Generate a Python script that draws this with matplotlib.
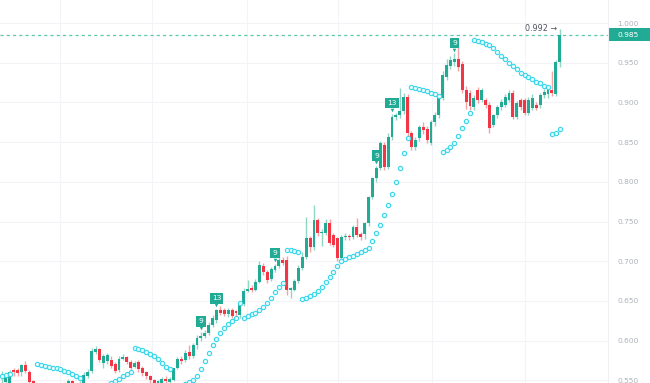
import matplotlib
matplotlib.use('Agg')
import matplotlib.pyplot as plt
import matplotlib.transforms as mtransforms
from matplotlib.patches import Rectangle
import numpy as np

# ---- data (one candle per entry) ----
opens = [0.552, 0.548, 0.545, 0.563, 0.563, 0.560, 0.569, 0.561, 0.549, 0.541,
         0.536, 0.532, 0.530, 0.534, 0.531, 0.535, 0.538, 0.541, 0.549, 0.543,
         0.540, 0.545, 0.556, 0.562, 0.586, 0.589, 0.572, 0.574, 0.576, 0.570,
         0.563, 0.577, 0.579, 0.573, 0.567, 0.573, 0.566, 0.560, 0.555, 0.550,
         0.543, 0.546, 0.552, 0.548, 0.551, 0.566, 0.577, 0.575, 0.586, 0.580,
         0.594, 0.603, 0.606, 0.610, 0.620, 0.626, 0.639, 0.638, 0.633, 0.639,
         0.637, 0.632, 0.646, 0.663, 0.666, 0.664, 0.674, 0.694, 0.687, 0.678,
         0.689, 0.694, 0.702, 0.702, 0.664, 0.664, 0.675, 0.691, 0.705, 0.729,
         0.718, 0.752, 0.735, 0.736, 0.748, 0.733, 0.729, 0.704, 0.730, 0.732,
         0.731, 0.743, 0.734, 0.734, 0.748, 0.781, 0.805, 0.817, 0.846, 0.819,
         0.856, 0.882, 0.884, 0.889, 0.907, 0.861, 0.844, 0.855, 0.869, 0.866,
         0.849, 0.875, 0.884, 0.906, 0.932, 0.946, 0.951, 0.955, 0.948, 0.916,
         0.912, 0.894, 0.915, 0.903, 0.903, 0.897, 0.872, 0.884, 0.894, 0.897,
         0.903, 0.912, 0.882, 0.903, 0.903, 0.887, 0.893, 0.897, 0.897, 0.909,
         0.910, 0.916, 0.910, 0.951]
highs = [0.562, 0.557, 0.563, 0.566, 0.565, 0.571, 0.574, 0.563, 0.551, 0.546,
         0.540, 0.535, 0.537, 0.536, 0.538, 0.540, 0.545, 0.552, 0.551, 0.546,
         0.549, 0.560, 0.564, 0.591, 0.593, 0.591, 0.583, 0.584, 0.580, 0.573,
         0.580, 0.583, 0.581, 0.575, 0.574, 0.576, 0.568, 0.562, 0.557, 0.552,
         0.551, 0.554, 0.555, 0.554, 0.566, 0.579, 0.580, 0.588, 0.594, 0.597,
         0.607, 0.611, 0.613, 0.624, 0.632, 0.640, 0.644, 0.641, 0.641, 0.641,
         0.639, 0.649, 0.666, 0.676, 0.670, 0.678, 0.700, 0.698, 0.689, 0.693,
         0.697, 0.714, 0.705, 0.706, 0.668, 0.678, 0.695, 0.712, 0.756, 0.732,
         0.771, 0.755, 0.740, 0.753, 0.753, 0.736, 0.731, 0.733, 0.735, 0.734,
         0.746, 0.755, 0.737, 0.750, 0.782, 0.806, 0.820, 0.852, 0.850, 0.862,
         0.886, 0.887, 0.918, 0.912, 0.911, 0.864, 0.857, 0.872, 0.875, 0.870,
         0.878, 0.888, 0.909, 0.939, 0.955, 0.958, 0.962, 0.976, 0.952, 0.921,
         0.916, 0.909, 0.919, 0.918, 0.906, 0.900, 0.886, 0.897, 0.904, 0.910,
         0.916, 0.915, 0.902, 0.906, 0.906, 0.907, 0.910, 0.900, 0.912, 0.917,
         0.919, 0.940, 0.953, 0.992]
lows = [0.545, 0.544, 0.542, 0.556, 0.555, 0.556, 0.559, 0.543, 0.535, 0.530,
        0.528, 0.527, 0.528, 0.529, 0.529, 0.532, 0.535, 0.538, 0.540, 0.537,
        0.537, 0.542, 0.553, 0.559, 0.583, 0.573, 0.566, 0.571, 0.565, 0.559,
        0.561, 0.575, 0.570, 0.563, 0.565, 0.561, 0.556, 0.552, 0.547, 0.538,
        0.540, 0.542, 0.545, 0.544, 0.549, 0.564, 0.571, 0.573, 0.577, 0.578,
        0.590, 0.600, 0.603, 0.607, 0.617, 0.622, 0.632, 0.631, 0.630, 0.628,
        0.629, 0.629, 0.644, 0.661, 0.661, 0.662, 0.672, 0.683, 0.672, 0.675,
        0.687, 0.692, 0.695, 0.658, 0.654, 0.662, 0.673, 0.689, 0.703, 0.712,
        0.714, 0.732, 0.719, 0.733, 0.720, 0.718, 0.700, 0.701, 0.727, 0.727,
        0.728, 0.730, 0.727, 0.728, 0.744, 0.778, 0.800, 0.815, 0.815, 0.816,
        0.853, 0.878, 0.880, 0.886, 0.857, 0.840, 0.840, 0.851, 0.860, 0.849,
        0.846, 0.870, 0.880, 0.903, 0.928, 0.942, 0.946, 0.940, 0.912, 0.892,
        0.890, 0.890, 0.899, 0.900, 0.893, 0.861, 0.869, 0.880, 0.891, 0.894,
        0.900, 0.879, 0.879, 0.890, 0.884, 0.884, 0.890, 0.890, 0.893, 0.905,
        0.906, 0.908, 0.908, 0.945]
closes = [0.558, 0.555, 0.560, 0.561, 0.559, 0.569, 0.562, 0.548, 0.540, 0.536,
          0.532, 0.530, 0.534, 0.531, 0.535, 0.538, 0.541, 0.549, 0.543, 0.540,
          0.546, 0.557, 0.561, 0.587, 0.590, 0.576, 0.580, 0.582, 0.568, 0.562,
          0.577, 0.579, 0.573, 0.566, 0.572, 0.564, 0.559, 0.555, 0.550, 0.543,
          0.549, 0.552, 0.549, 0.552, 0.565, 0.577, 0.574, 0.585, 0.580, 0.594,
          0.603, 0.606, 0.610, 0.620, 0.628, 0.639, 0.635, 0.634, 0.639, 0.631,
          0.635, 0.646, 0.663, 0.665, 0.664, 0.674, 0.695, 0.686, 0.676, 0.690,
          0.694, 0.702, 0.698, 0.664, 0.666, 0.675, 0.691, 0.705, 0.729, 0.718,
          0.752, 0.736, 0.737, 0.748, 0.723, 0.720, 0.704, 0.730, 0.732, 0.730,
          0.743, 0.733, 0.731, 0.748, 0.781, 0.805, 0.817, 0.849, 0.819, 0.856,
          0.882, 0.884, 0.889, 0.907, 0.861, 0.844, 0.853, 0.869, 0.865, 0.853,
          0.875, 0.884, 0.906, 0.935, 0.947, 0.953, 0.955, 0.945, 0.916, 0.900,
          0.895, 0.906, 0.903, 0.915, 0.897, 0.868, 0.884, 0.894, 0.901, 0.907,
          0.912, 0.882, 0.899, 0.894, 0.887, 0.903, 0.906, 0.893, 0.909, 0.913,
          0.916, 0.912, 0.951, 0.985]

# parabolic SAR dots (nan = no dot drawn)
nan = np.nan
sar = [0.556, 0.557, 0.558, nan, nan, nan, nan, nan, nan,
       0.570, 0.569, 0.568, 0.567, 0.566, 0.565, 0.564, 0.562, 0.560, 0.558, 0.556, 0.553,
       0.527, 0.528, 0.530, 0.532, 0.535, 0.538, 0.542, 0.546, 0.549, 0.552, 0.555, 0.558, 0.561,
       0.591, 0.589, 0.588, 0.586, 0.583, 0.581, 0.577, 0.572, 0.567, 0.564,
       0.536, 0.537, 0.539, 0.545, 0.548, 0.551, 0.556, 0.564, 0.574, 0.584, 0.594,
       0.602, 0.610, 0.616, 0.621, 0.625, 0.628,
       0.647,
       0.629, 0.631, 0.633, 0.635, 0.638, 0.642, 0.647, 0.654, 0.661, 0.667, 0.673,
       0.714, 0.714, 0.713, 0.711,
       0.652, 0.654, 0.656, 0.659, 0.662, 0.668, 0.674, 0.680, 0.687, 0.694, 0.700,
       0.703, 0.705, 0.707, 0.709, 0.711, 0.714, 0.717, 0.725, 0.735, 0.746, 0.758,
       0.771, 0.785, 0.800, 0.817, 0.836, 0.855,
       0.919, 0.918, 0.917, 0.915, 0.914, 0.912, 0.910, 0.908,
       0.838, 0.840, 0.844, 0.849, 0.858, 0.868, 0.877, 0.887,
       0.979, 0.977, 0.976, 0.974, 0.972, 0.968, 0.964, 0.959, 0.955, 0.950,
       0.946, 0.942, 0.937, 0.934, 0.932, 0.929, 0.926, 0.924, 0.921, 0.919,
       0.860, 0.862, 0.866]

# TD sequential count labels
td_index = [51, 55, 70, 96, 100, 116]
td_text = ['9', '13', '9', '9', '13', '9']

price_ticks = [0.550, 0.600, 0.650, 0.700, 0.750, 0.800, 0.850, 0.900, 0.950, 1.000]
last_price = 0.985
session_high = 0.992

assert len(opens) == len(highs) == len(lows) == len(closes) == len(sar)

UP = '#22ab94'
DOWN = '#f23645'
UP_WICK = '#8fd6c4'
DOWN_WICK = '#f6a0a8'

fig = plt.figure(figsize=(6.5, 3.83), dpi=100)
ax = fig.add_axes([0, 0, 608 / 650, 1])

x = np.arange(len(closes))
o = np.array(opens)
c = np.array(closes)
up = c >= o

# wicks then bodies
ax.vlines(x, lows, highs, colors=[UP_WICK if u else DOWN_WICK for u in up],
          linewidth=1.0, zorder=2)
body_bottom = np.minimum(o, c)
body_height = np.maximum(np.abs(c - o), 0.0012)
ax.bar(x, body_height, bottom=body_bottom, width=0.74,
       color=[UP if u else DOWN for u in up], linewidth=0, zorder=3)

# parabolic SAR
ax.plot(x, sar, linestyle='none', marker='o', markersize=3.1,
        markerfacecolor='#e6fcff', markeredgecolor='#38d6eb', markeredgewidth=0.8,
        zorder=4)

# TD labels above the bars
for i, t in zip(td_index, td_text):
    ax.annotate(t, xy=(i, highs[i]), xytext=(0, 7.5), textcoords='offset points',
                ha='center', va='center', fontsize=5.4, color='white',
                bbox=dict(boxstyle='square,pad=0.3', fc=UP, ec='none'), zorder=6)
    tr = mtransforms.offset_copy(ax.transData, fig=fig, x=0, y=2.6, units='points')
    ax.plot(i, highs[i], marker='v', markersize=2.6, color=UP,
            markeredgewidth=0, transform=tr, zorder=6)

# last price line and tag
ax.axhline(last_price, color='#3dbf9c', linewidth=0.9, linestyle=(0, (2.5, 2.5)),
           alpha=0.85, zorder=1)
blend = mtransforms.blended_transform_factory(ax.transAxes, ax.transData)
ax.add_patch(Rectangle((1.0, last_price - 0.0082), 650 / 608 - 1, 0.0164,
                       transform=blend, clip_on=False, facecolor=UP, edgecolor='none'))
ax.text(617 / 608, last_price, f'{last_price:.3f}', transform=blend, ha='left',
        va='center', fontsize=5.4, color='white')

# session high marker
ax.annotate(f'{session_high:.3f} \u2192', xy=(len(closes) - 1, session_high),
            xytext=(-1.5, 0.8), textcoords='offset points', ha='right', va='center',
            fontsize=5.8, color='#50535e')

# axes styling
ax.set_xlim(-2 / 3.9, 606 / 3.9)
ax.set_ylim(1 - 360 / 794, 1 + 23 / 794)
ax.set_yticks(price_ticks)
ax.set_yticklabels([f'{v:.3f}' for v in price_ticks])
ax.yaxis.tick_right()
ax.tick_params(axis='y', length=0, pad=6.5, labelsize=5.4, labelcolor='#aeb2bc')
ax.set_xticks([])
ax.grid(axis='y', color='#f3f4f7', linewidth=0.8)
for px in [60, 152, 247, 338, 432, 525]:
    ax.axvline((px - 2) / 3.9, color='#f3f4f7', linewidth=0.8, zorder=0)
ax.set_axisbelow(True)
for s in ['top', 'left', 'bottom']:
    ax.spines[s].set_visible(False)
ax.spines['right'].set_color('#eef0f3')
ax.spines['right'].set_linewidth(0.8)

fig.savefig('out.png', dpi=100)
plt.close(fig)
